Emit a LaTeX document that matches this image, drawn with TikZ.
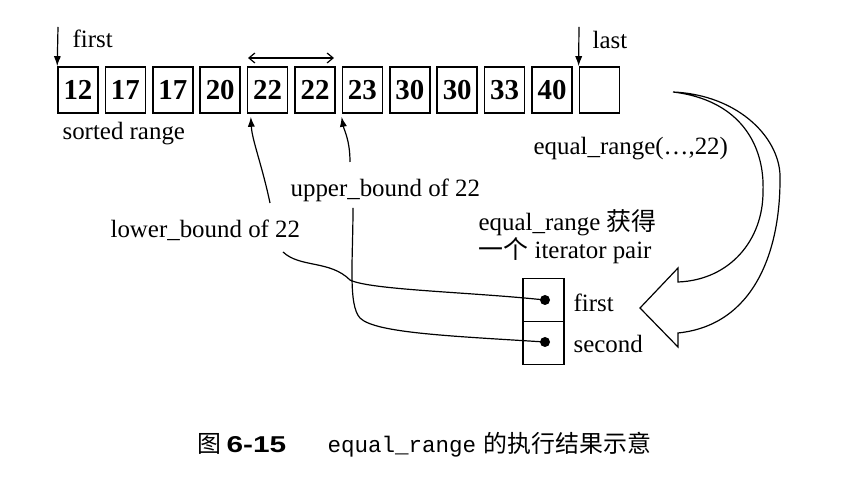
\documentclass[tikz,border=0pt]{standalone}
\usepackage{fontspec}
\setmainfont{Liberation Serif}
\setmonofont{Liberation Mono}
\newfontfamily\cjk{Noto Sans CJK SC}
\newfontfamily\capsans[FakeStretch=1.3]{Liberation Sans}
\usetikzlibrary{arrows.meta}

\begin{document}
\begin{tikzpicture}[x=0.5bp, y=-0.5bp, line width=0.6pt,
  cell/.style={draw, line width=0.8pt, minimum width=20bp, minimum height=23bp, inner sep=0pt, font=\fontsize{14.5}{14.5}\selectfont\bfseries},
  lbl/.style={anchor=base west, inner sep=0pt, font=\fontsize{12.5}{15}\selectfont},
  slot/.style={draw, line width=0.8pt, minimum width=20.5bp, minimum height=21.5bp, inner sep=0pt},
  dot/.style={circle, fill, inner sep=0pt, minimum size=5bp}]
\useasboundingbox (0,0) rectangle (848,498);
\tikzset{>={Latex[length=5bp,width=3.6bp]}}
% sorted range
\foreach \v [count=\i from 0] in {12,17,17,20,22,22,23,30,30,33,40,{}}
  \node[cell] (b\i) at (78+47.4*\i,90) {\v};
\node[lbl] (first) at (72,48) {first};
\node[lbl] (last) at (592,49) {last};
\node[lbl] (sorted) at (62,140) {sorted range};
\coordinate (firsttop) at (58,27);
\coordinate (lasttop) at (579,27);
\draw[->] (firsttop) -- (b0.north west);
\draw[->] (lasttop) -- (b11.north west);
\coordinate (spanl) at (248,58);
\coordinate (spanr) at (334,58);
\draw[{Straight Barb[length=3bp,width=5bp]}-{Straight Barb[length=3bp,width=5bp]}] (spanl) -- (spanr);
% bounds
\node[lbl] (ub) at (290,197) {upper\_bound of 22};
\node[lbl] (lb) at (110,238) {lower\_bound of 22};
\coordinate (lbup) at (270,203);
\coordinate (ubup) at (350,162);
\draw[->] (lbup) .. controls (262,165) and (252,140) .. ([xshift=2bp,yshift=-1.5bp]b4.south west);
\draw[->] (ubup) .. controls (350,140) and (344,130) .. ([yshift=-1.5bp]b6.south west);
% iterator pair
\node[lbl] (eqr) at (533,155) {equal\_range(\ldots,22)};
\node[lbl] (pair1) at (478,231) {equal\_range {\cjk 获得}};
\node[lbl] (pair2) at (478,259) {{\cjk 一个} iterator pair};
\node[slot] (pf) at (543.5,300) {};
\node[slot] (ps) at (543.5,343) {};
\node[lbl] (pfl) at (573,312) {first};
\node[lbl] (psl) at (573,353) {second};
\coordinate (lbout) at (283,252);
\coordinate (ubout) at (353,208);
\draw (lbout) .. controls (300,268) and (330,260) .. (350,280) .. controls (370,290) and (470,292) .. (545,300);
\draw (ubout) .. controls (353,260) and (348,305) .. (360,318) .. controls (375,333) and (450,336) .. (545,342);
\node[dot] (df) at (545,300) {};
\node[dot] (ds) at (545,342) {};
% big arrow
\draw (673,92) .. controls (740,95) and (782,140) .. (780,180) .. controls (780,250) and (755,325) .. (678,333)
  -- (678,347) -- (640,308) -- (678,268) -- (678,282)
  .. controls (730,280) and (763,240) .. (763,192) .. controls (765,145) and (740,100) .. cycle;
% caption
\node[anchor=base west, inner sep=0pt, font=\fontsize{12}{14}\selectfont\cjk] (fig) at (197,453) {图};
\node[anchor=base west, inner sep=0pt, font=\fontsize{11.5}{14}\selectfont\capsans\bfseries] (fignum) at (226,453) {6-15};
\node[anchor=base west, inner sep=0pt, font=\fontsize{11.3}{14}\selectfont\ttfamily] (figfn) at (327,453) {equal\_range};
\node[anchor=base west, inner sep=0pt, font=\fontsize{12}{14}\selectfont\cjk] (figtxt) at (483,453) {的执行结果示意};
\end{tikzpicture}
\end{document}
